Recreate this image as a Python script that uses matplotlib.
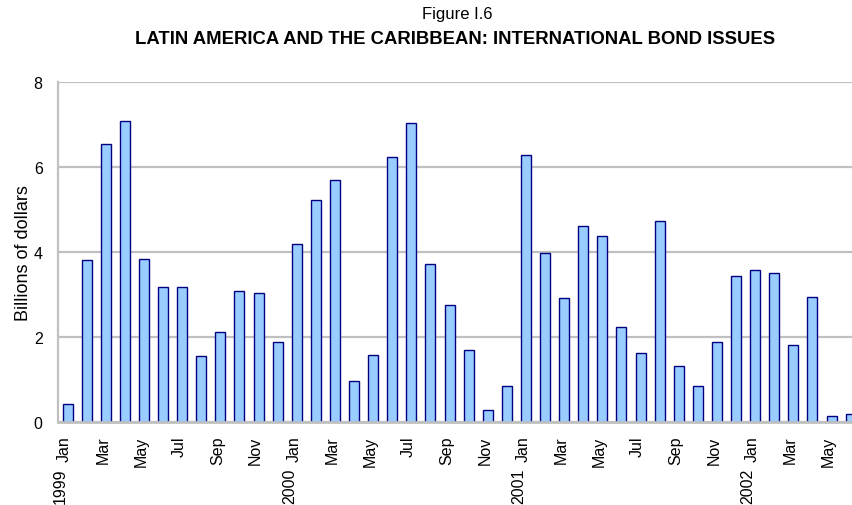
#!/usr/bin/env python3
"""Latin America and the Caribbean: international bond issues, monthly bars -> out.png."""

import matplotlib
matplotlib.use("Agg")
import matplotlib.pyplot as plt
import matplotlib.transforms as mtransforms
import numpy as np

plt.rcParams["font.family"] = ["Liberation Sans", "DejaVu Sans"]

# Jan 1999 .. Jun 2002, billions of dollars
months = ["Jan", "Feb", "Mar", "Apr", "May", "Jun",
          "Jul", "Aug", "Sep", "Oct", "Nov", "Dec"] * 3 + \
         ["Jan", "Feb", "Mar", "Apr", "May", "Jun"]
years = ["1999", "2000", "2001", "2002"]
values = [0.41, 3.81, 6.53, 7.08, 3.84, 3.16, 3.18, 1.55, 2.11, 3.08, 3.04, 1.88,
          4.17, 5.21, 5.69, 0.96, 1.57, 6.24, 7.02, 3.70, 2.75, 1.69, 0.27, 0.85,
          6.27, 3.98, 2.92, 4.60, 4.38, 2.24, 1.62, 4.73, 1.30, 0.85, 1.87, 3.44,
          3.58, 3.50, 1.80, 2.94, 0.14, 0.19]
y_ticks = [0, 2, 4, 6, 8]

grid_col = "#c0c0c0"

fig = plt.figure(figsize=(8.52, 5.06), dpi=100)
ax = fig.add_axes([58 / 852, 1 - 422.7 / 506, 1 - 58 / 852, 340 / 506])

x = np.arange(len(values))
ax.bar(x, values, width=0.52, color="#99ccff", edgecolor="#000080",
       linewidth=1.0, zorder=3)

ax.set_ylim(0, 8)
ax.set_xlim(-0.5, 41.07)
ax.set_yticks(y_ticks)
ax.yaxis.grid(True, color=grid_col, linewidth=1.6, zorder=0)
for s in ("top", "right"):
    ax.spines[s].set_visible(False)
ax.spines["left"].set_color(grid_col)
ax.spines["left"].set_linewidth(1.6)
ax.spines["bottom"].set_color(grid_col)
ax.spines["bottom"].set_linewidth(2.0)
ax.spines["bottom"].set_zorder(4)

# month labels every other month
tick_pos = x[::2]
ax.set_xticks(tick_pos)
ax.set_xticklabels([months[i] for i in tick_pos], rotation=90,
                   fontsize=11.5, va="top", ha="center")
ax.tick_params(axis="x", length=0, pad=10)
ax.tick_params(axis="y", length=0, pad=11, labelsize=11.5)
shift = mtransforms.ScaledTranslation(-3 / 100, 0, fig.dpi_scale_trans)
for lab in ax.get_xticklabels():
    lab.set_transform(lab.get_transform() + shift)

# year labels below the January ticks
for k, yr in enumerate(years):
    ax.annotate(yr, xy=(12 * k, 0), xycoords=("data", "axes fraction"),
                xytext=(-5, -33), textcoords="offset points",
                rotation=90, ha="center", va="top", fontsize=11.5)

ax.set_ylabel("Billions of dollars", fontsize=13, labelpad=1)

fig.text(457 / 852, 1 - 15 / 506, "Figure I.6", ha="center", va="center",
         fontsize=12)
fig.text(455 / 852, 1 - 40 / 506,
         "LATIN AMERICA AND THE CARIBBEAN: INTERNATIONAL BOND ISSUES",
         ha="center", va="center", fontsize=13.3, fontweight="bold")

fig.savefig("out.png", dpi=100)
